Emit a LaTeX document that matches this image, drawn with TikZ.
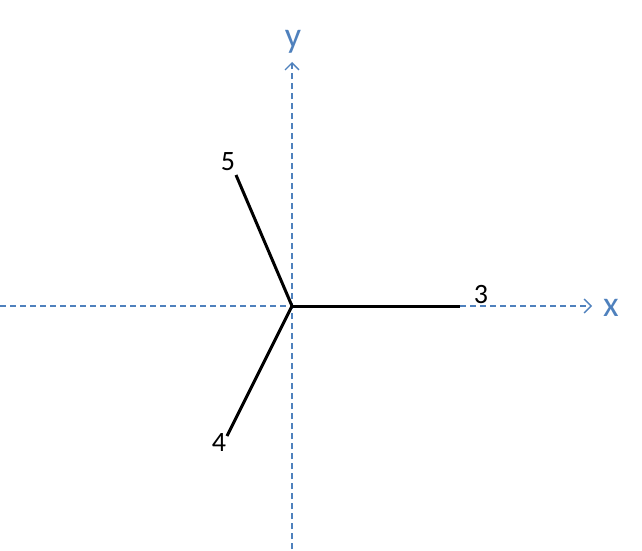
\documentclass[tikz,border=0pt]{standalone}
\usepackage{fontspec}
\setmainfont{Carlito}
\usetikzlibrary{arrows.meta}
\definecolor{axisblue}{HTML}{4F81BD}
\tikzset{
  axis/.style={draw=axisblue, line width=1.4pt, dash pattern=on 6pt off 4pt, -{Straight Barb[length=7pt,width=14pt,line width=1.4pt]}},
  bar/.style={draw=black, line width=3pt},
  num/.style={font=\fontsize{28}{30}\selectfont, inner sep=0pt},
  axlabel/.style={font=\fontsize{36}{40}\selectfont, text=axisblue, inner sep=0pt}
}
\begin{document}
\begin{tikzpicture}[x=1pt,y=-1pt]
\useasboundingbox (0,0) rectangle (642,551);
\coordinate (O) at (292,306);
\coordinate (xs) at (0,306);
\coordinate (xe) at (592,306);
\coordinate (ys) at (292,549);
\coordinate (ye) at (292,62);
\coordinate (e3) at (460,306);
\coordinate (e5) at (236,175);
\coordinate (e4) at (227,436);
\draw[axis] (xs) -- (xe);
\draw[axis] (ys) -- (ye);
\draw[bar] (O) -- (e3);
\draw[bar] (O) -- (e5);
\draw[bar] (O) -- (e4);
\node[num] (l3) at (481,295) {3};
\node[num] (l5) at (228,162) {5};
\node[num] (l4) at (219,443) {4};
\node[axlabel] (lx) at (611,308) {x};
\node[axlabel] (ly) at (293,42) {y};
\end{tikzpicture}
\end{document}
